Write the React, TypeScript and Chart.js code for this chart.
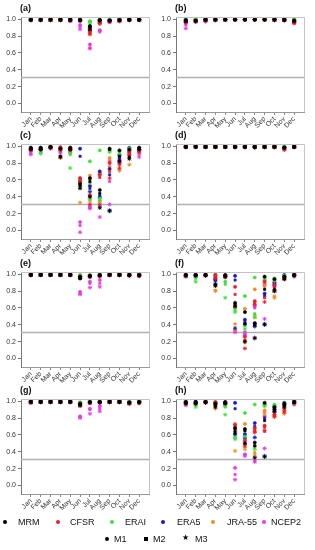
import React, { useEffect, useRef } from "react";
import { Chart, registerables } from "chart.js";

Chart.register(...registerables);

const MONTHS = ["Jan", "Feb", "Mar", "Apr", "May", "Jun", "Jul", "Aug", "Sep", "Oct", "Nov", "Dec"];
const PRODUCTS = ["MRM", "CFSR", "ERAI", "ERA5", "JRA-55", "NCEP2"];
const KEYS = ["MRM", "CFSR", "ERAI", "ERA5", "JRA55", "NCEP2"];
const COLORS = ["#000000", "#e8202a", "#3ee03e", "#1a1ab4", "#f08c28", "#e23ce2"];
const METHODS = ["M1", "M2", "M3"];
const POINT_STYLES = ["circle", "rect", "star"];
const Y_TICKS = [0, 0.2, 0.4, 0.6, 0.8, 1.0];
const THRESHOLD = 0.31;
const PANEL_LABELS = ["(a)", "(b)", "(c)", "(d)", "(e)", "(f)", "(g)", "(h)"];

const PANEL_A = {
  MRM: [
    [0.995, 0.995, 0.995, 0.995, 0.995, 0.99, 0.92, 0.99, 0.985, 0.99, 0.995, 0.995],
    [0.99, 0.99, 0.99, 0.99, 0.99, 0.985, 0.9, 0.985, 0.98, 0.985, 0.99, 0.99],
    [0.995, 0.995, 0.995, 0.995, 0.99, 0.99, 0.88, 0.98, 0.98, 0.99, 0.995, 0.995],
  ],
  CFSR: [
    [0.99, 0.99, 0.99, 0.99, 0.99, 0.985, 0.86, 0.97, 0.98, 0.985, 0.99, 0.99],
    [0.99, 0.99, 0.99, 0.99, 0.985, 0.98, 0.84, 0.96, 0.98, 0.98, 0.99, 0.99],
    [0.99, 0.99, 0.99, 0.99, 0.985, 0.98, 0.82, 0.95, 0.975, 0.98, 0.99, 0.99],
  ],
  ERAI: [
    [0.99, 0.99, 0.99, 0.99, 0.99, 0.99, 0.975, 0.99, 0.99, 0.99, 0.99, 0.99],
    [0.99, 0.99, 0.99, 0.99, 0.99, 0.99, 0.965, 0.985, 0.99, 0.99, 0.99, 0.99],
    [0.99, 0.99, 0.99, 0.99, 0.99, 0.985, 0.96, 0.985, 0.985, 0.99, 0.99, 0.99],
  ],
  ERA5: [
    [0.99, 0.99, 0.99, 0.99, 0.99, 0.99, 0.91, 0.99, 0.99, 0.99, 0.99, 0.99],
    [0.99, 0.99, 0.99, 0.99, 0.99, 0.99, 0.89, 0.985, 0.985, 0.99, 0.99, 0.99],
    [0.99, 0.99, 0.99, 0.99, 0.99, 0.985, 0.87, 0.98, 0.985, 0.99, 0.99, 0.99],
  ],
  JRA55: [
    [0.99, 0.99, 0.99, 0.99, 0.99, 0.985, 0.85, 0.95, 0.98, 0.985, 0.99, 0.99],
    [0.99, 0.99, 0.99, 0.99, 0.985, 0.98, 0.84, 0.94, 0.98, 0.98, 0.99, 0.99],
    [0.99, 0.99, 0.99, 0.99, 0.985, 0.98, 0.83, 0.95, 0.975, 0.98, 0.99, 0.99],
  ],
  NCEP2: [
    [0.99, 0.99, 0.99, 0.99, 0.98, 0.93, 0.7, 0.87, 0.97, 0.98, 0.99, 0.99],
    [0.99, 0.99, 0.985, 0.985, 0.975, 0.91, 0.66, 0.86, 0.96, 0.97, 0.99, 0.99],
    [0.985, 0.985, 0.985, 0.985, 0.98, 0.88, 0.65, 0.85, 0.965, 0.975, 0.985, 0.99],
  ],
};

const PANEL_B = {
  MRM: [
    [0.99, 0.985, 0.995, 0.995, 0.995, 0.995, 0.995, 0.995, 0.995, 0.995, 0.995, 0.985],
    [0.98, 0.98, 0.99, 0.995, 0.995, 0.995, 0.995, 0.995, 0.995, 0.995, 0.99, 0.98],
    [0.975, 0.975, 0.99, 0.995, 0.995, 0.995, 0.995, 0.995, 0.995, 0.995, 0.99, 0.975],
  ],
  CFSR: [
    [0.97, 0.98, 0.99, 0.995, 0.995, 0.995, 0.995, 0.995, 0.995, 0.995, 0.99, 0.96],
    [0.965, 0.98, 0.99, 0.99, 0.995, 0.995, 0.995, 0.995, 0.995, 0.99, 0.99, 0.955],
    [0.96, 0.975, 0.985, 0.99, 0.99, 0.995, 0.995, 0.995, 0.995, 0.99, 0.985, 0.95],
  ],
  ERAI: [
    [0.99, 1.0, 0.995, 0.995, 0.995, 0.995, 0.995, 0.995, 0.995, 0.995, 0.995, 1.0],
    [0.985, 0.995, 0.99, 0.995, 0.995, 0.995, 0.995, 0.995, 0.995, 0.995, 0.995, 0.995],
    [0.985, 0.99, 0.99, 0.99, 0.995, 0.995, 0.995, 0.995, 0.995, 0.99, 0.99, 0.99],
  ],
  ERA5: [
    [0.99, 0.99, 0.995, 0.995, 0.995, 0.995, 0.995, 0.995, 0.995, 0.995, 0.995, 0.99],
    [0.985, 0.985, 0.99, 0.995, 0.995, 0.995, 0.995, 0.995, 0.995, 0.995, 0.99, 0.985],
    [0.98, 0.985, 0.99, 0.99, 0.995, 0.995, 0.995, 0.995, 0.995, 0.99, 0.99, 0.98],
  ],
  JRA55: [
    [0.98, 0.98, 0.99, 0.995, 0.995, 0.995, 0.995, 0.995, 0.995, 0.995, 0.99, 0.98],
    [0.98, 0.98, 0.99, 0.99, 0.995, 0.995, 0.995, 0.995, 0.995, 0.99, 0.99, 0.975],
    [0.975, 0.975, 0.985, 0.99, 0.99, 0.995, 0.995, 0.995, 0.99, 0.99, 0.985, 0.97],
  ],
  NCEP2: [
    [0.95, 0.975, 0.98, 0.99, 0.995, 0.995, 0.995, 0.995, 0.995, 0.99, 0.99, 0.97],
    [0.93, 0.97, 0.975, 0.99, 0.99, 0.995, 0.995, 0.995, 0.99, 0.99, 0.985, 0.965],
    [0.89, 0.965, 0.97, 0.985, 0.99, 0.99, 0.99, 0.99, 0.99, 0.985, 0.985, 0.96],
  ],
};

const PANEL_C = {
  MRM: [
    [0.98, 0.98, 0.99, 0.97, 0.98, 0.55, 0.62, 0.48, 0.97, 0.95, 0.96, 0.98],
    [0.97, 0.97, 0.99, 0.88, 0.97, 0.53, 0.58, 0.44, 0.96, 0.88, 0.87, 0.97],
    [0.96, 0.96, 0.985, 0.87, 0.96, 0.5, 0.4, 0.27, 0.23, 0.82, 0.85, 0.96],
  ],
  CFSR: [
    [0.97, 0.97, 0.99, 0.98, 0.98, 0.62, 0.42, 0.66, 0.8, 0.8, 0.93, 0.95],
    [0.96, 0.96, 0.985, 0.96, 0.96, 0.59, 0.4, 0.63, 0.7, 0.78, 0.91, 0.94],
    [0.95, 0.96, 0.98, 0.95, 0.95, 0.57, 0.31, 0.3, 0.62, 0.74, 0.9, 0.93],
  ],
  ERAI: [
    [0.97, 0.96, 0.99, 0.97, 0.92, 0.56, 0.82, 0.95, 0.95, 0.94, 0.97, 0.96],
    [0.97, 0.93, 0.99, 0.96, 0.9, 0.54, 0.56, 0.38, 0.94, 0.93, 0.96, 0.96],
    [0.96, 0.91, 0.985, 0.96, 0.74, 0.52, 0.37, 0.36, 0.93, 0.9, 0.95, 0.95],
  ],
  ERA5: [
    [0.98, 0.98, 0.99, 0.98, 0.98, 0.97, 0.53, 0.7, 0.73, 0.9, 0.98, 0.98],
    [0.97, 0.97, 0.99, 0.97, 0.97, 0.88, 0.5, 0.41, 0.66, 0.86, 0.97, 0.97],
    [0.97, 0.97, 0.985, 0.97, 0.96, 0.58, 0.46, 0.39, 0.24, 0.83, 0.95, 0.96],
  ],
  JRA55: [
    [0.97, 0.97, 0.985, 0.99, 0.97, 0.62, 0.65, 0.68, 0.86, 0.86, 0.93, 0.95],
    [0.96, 0.96, 0.985, 0.87, 0.96, 0.6, 0.6, 0.35, 0.84, 0.73, 0.9, 0.94],
    [0.96, 0.96, 0.98, 0.86, 0.95, 0.33, 0.35, 0.34, 0.76, 0.71, 0.78, 0.93],
  ],
  NCEP2: [
    [0.94, 0.95, 0.98, 0.95, 0.95, 0.1, 0.28, 0.67, 0.82, 0.89, 0.94, 0.93],
    [0.92, 0.94, 0.97, 0.93, 0.93, 0.06, 0.27, 0.32, 0.58, 0.85, 0.92, 0.9],
    [0.9, 0.93, 0.97, 0.92, 0.92, -0.02, 0.26, 0.16, 0.31, 0.8, 0.89, 0.87],
  ],
};

const PANEL_D = {
  MRM: [
    [0.995, 0.995, 0.995, 0.995, 0.995, 0.995, 0.995, 0.995, 0.995, 0.995, 0.985, 0.995],
    [0.99, 0.99, 0.99, 0.99, 0.99, 0.99, 0.99, 0.99, 0.99, 0.99, 0.98, 0.99],
    [0.99, 0.995, 0.99, 0.99, 0.99, 0.99, 0.99, 0.985, 0.99, 0.99, 0.98, 0.99],
  ],
  CFSR: [
    [0.99, 0.99, 0.99, 0.99, 0.99, 0.99, 0.99, 0.99, 0.99, 0.99, 0.97, 0.99],
    [0.99, 0.99, 0.99, 0.99, 0.99, 0.99, 0.99, 0.99, 0.99, 0.99, 0.96, 0.99],
    [0.99, 0.99, 0.99, 0.99, 0.99, 0.99, 0.99, 0.985, 0.99, 0.985, 0.955, 0.99],
  ],
  ERAI: [
    [0.995, 0.995, 0.995, 0.995, 0.995, 0.995, 0.995, 0.995, 0.995, 0.995, 0.99, 0.995],
    [0.99, 0.99, 0.99, 0.99, 0.99, 0.99, 0.99, 0.99, 0.99, 0.99, 0.99, 0.99],
    [0.99, 0.99, 0.99, 0.99, 0.99, 0.99, 0.99, 0.99, 0.99, 0.99, 0.985, 0.99],
  ],
  ERA5: [
    [0.995, 0.995, 0.995, 0.995, 0.995, 0.995, 0.995, 0.995, 0.995, 0.995, 0.99, 0.995],
    [0.99, 0.99, 0.99, 0.99, 0.99, 0.99, 0.99, 0.99, 0.99, 0.99, 0.985, 0.99],
    [0.99, 0.99, 0.99, 0.99, 0.99, 0.99, 0.99, 0.99, 0.99, 0.99, 0.985, 0.99],
  ],
  JRA55: [
    [0.995, 0.995, 0.995, 0.995, 0.995, 0.995, 0.995, 0.995, 0.995, 0.995, 0.985, 0.995],
    [0.99, 0.99, 0.99, 0.99, 0.99, 0.99, 0.99, 0.99, 0.99, 0.99, 0.98, 0.99],
    [0.99, 0.99, 0.99, 0.99, 0.99, 0.99, 0.99, 0.99, 0.99, 0.99, 0.98, 0.99],
  ],
  NCEP2: [
    [0.99, 0.99, 0.99, 0.99, 0.99, 0.99, 0.99, 0.99, 0.99, 0.99, 0.98, 0.99],
    [0.99, 0.99, 0.99, 0.99, 0.99, 0.99, 0.99, 0.985, 0.99, 0.985, 0.975, 0.99],
    [0.985, 0.99, 0.99, 0.99, 0.99, 0.985, 0.985, 0.985, 0.985, 0.985, 0.97, 0.985],
  ],
};

const PANEL_E = {
  MRM: [
    [0.995, 0.995, 0.995, 0.995, 0.995, 0.97, 0.98, 0.99, 0.995, 0.995, 0.99, 0.99],
    [0.99, 0.99, 0.99, 0.99, 0.99, 0.95, 0.98, 0.985, 0.99, 0.99, 0.99, 0.99],
    [0.99, 0.99, 0.99, 0.99, 0.99, 0.95, 0.97, 0.985, 0.99, 0.99, 0.985, 0.985],
  ],
  CFSR: [
    [0.99, 0.99, 0.99, 0.99, 0.99, 0.96, 0.98, 0.98, 0.99, 0.99, 0.99, 0.98],
    [0.99, 0.99, 0.99, 0.99, 0.99, 0.96, 0.975, 0.98, 0.99, 0.99, 0.99, 0.98],
    [0.99, 0.99, 0.99, 0.99, 0.99, 0.95, 0.975, 0.97, 0.99, 0.99, 0.985, 0.975],
  ],
  ERAI: [
    [0.995, 0.995, 0.995, 0.995, 0.995, 0.98, 0.99, 0.99, 0.995, 0.995, 0.995, 0.995],
    [0.99, 0.99, 0.99, 0.99, 0.99, 0.98, 0.99, 0.99, 0.99, 0.99, 0.99, 0.99],
    [0.99, 0.99, 0.99, 0.99, 0.99, 0.975, 0.98, 0.985, 0.99, 0.99, 0.99, 0.99],
  ],
  ERA5: [
    [0.995, 0.995, 0.995, 0.995, 0.995, 0.98, 0.98, 0.99, 0.995, 0.995, 0.995, 0.995],
    [0.99, 0.99, 0.99, 0.99, 0.99, 0.975, 0.98, 0.99, 0.99, 0.99, 0.99, 0.99],
    [0.99, 0.99, 0.99, 0.99, 0.99, 0.97, 0.975, 0.985, 0.99, 0.99, 0.99, 0.99],
  ],
  JRA55: [
    [0.995, 0.995, 0.995, 0.995, 0.995, 0.99, 0.97, 0.98, 0.995, 0.995, 0.995, 0.995],
    [0.99, 0.99, 0.99, 0.99, 0.99, 0.98, 0.97, 0.98, 0.99, 0.99, 0.99, 0.99],
    [0.99, 0.99, 0.99, 0.99, 0.99, 0.98, 0.96, 0.975, 0.99, 0.99, 0.99, 0.99],
  ],
  NCEP2: [
    [0.99, 0.99, 0.99, 0.99, 0.99, 0.79, 0.91, 0.93, 0.99, 0.99, 0.985, 0.99],
    [0.99, 0.99, 0.99, 0.99, 0.99, 0.77, 0.89, 0.89, 0.99, 0.99, 0.985, 0.99],
    [0.985, 0.99, 0.99, 0.99, 0.985, 0.76, 0.84, 0.85, 0.985, 0.985, 0.98, 0.985],
  ],
};

const PANEL_F = {
  MRM: [
    [0.99, 0.99, 0.99, 0.88, 0.99, 0.66, 0.55, 0.42, 0.97, 0.94, 0.97, 0.99],
    [0.985, 0.985, 0.99, 0.87, 0.98, 0.64, 0.41, 0.4, 0.82, 0.82, 0.95, 0.99],
    [0.98, 0.98, 0.985, 0.86, 0.97, 0.62, 0.2, 0.24, 0.4, 0.8, 0.94, 0.985],
  ],
  CFSR: [
    [0.99, 0.99, 0.99, 0.99, 0.98, 0.85, 0.26, 0.68, 0.91, 0.87, 0.97, 0.99],
    [0.985, 0.985, 0.99, 0.97, 0.98, 0.76, 0.22, 0.66, 0.72, 0.85, 0.96, 0.99],
    [0.98, 0.985, 0.985, 0.95, 0.975, 0.62, 0.12, 0.64, 0.67, 0.8, 0.95, 0.985],
  ],
  ERAI: [
    [0.99, 0.97, 0.99, 0.99, 0.91, 0.6, 0.74, 0.96, 0.96, 0.95, 0.98, 0.99],
    [0.99, 0.95, 0.99, 0.99, 0.88, 0.57, 0.39, 0.53, 0.94, 0.93, 0.98, 0.99],
    [0.985, 0.91, 0.985, 0.985, 0.72, 0.55, 0.35, 0.49, 0.92, 0.92, 0.975, 0.985],
  ],
  ERA5: [
    [0.99, 0.99, 0.99, 0.94, 0.98, 0.98, 0.46, 0.41, 0.77, 0.9, 0.99, 0.99],
    [0.99, 0.99, 0.99, 0.93, 0.98, 0.93, 0.43, 0.39, 0.74, 0.88, 0.98, 0.99],
    [0.985, 0.985, 0.985, 0.92, 0.975, 0.36, 0.4, 0.38, 0.41, 0.86, 0.97, 0.985],
  ],
  JRA55: [
    [0.99, 0.99, 0.99, 0.99, 0.98, 0.6, 0.59, 0.82, 0.93, 0.8, 0.96, 0.99],
    [0.985, 0.985, 0.99, 0.81, 0.975, 0.41, 0.42, 0.52, 0.89, 0.74, 0.95, 0.99],
    [0.98, 0.98, 0.985, 0.8, 0.97, 0.34, 0.19, 0.49, 0.86, 0.72, 0.94, 0.985],
  ],
  NCEP2: [
    [0.98, 0.98, 0.985, 0.98, 0.97, 0.33, 0.31, 0.62, 0.88, 0.9, 0.97, 0.98],
    [0.97, 0.975, 0.98, 0.97, 0.96, 0.32, 0.29, 0.6, 0.86, 0.89, 0.97, 0.97],
    [0.97, 0.97, 0.98, 0.96, 0.96, 0.31, 0.27, 0.25, 0.47, 0.88, 0.965, 0.97],
  ],
};

const PANEL_G = {
  MRM: [
    [0.995, 0.995, 0.995, 0.995, 0.995, 0.97, 0.99, 0.99, 0.995, 0.995, 0.985, 0.99],
    [0.99, 0.99, 0.99, 0.99, 0.99, 0.96, 0.985, 0.99, 0.99, 0.99, 0.98, 0.99],
    [0.99, 0.99, 0.99, 0.99, 0.99, 0.95, 0.985, 0.985, 0.99, 0.99, 0.98, 0.985],
  ],
  CFSR: [
    [0.99, 0.99, 0.99, 0.99, 0.99, 0.96, 0.98, 0.985, 0.99, 0.99, 0.975, 0.98],
    [0.99, 0.99, 0.99, 0.99, 0.99, 0.95, 0.98, 0.985, 0.99, 0.99, 0.97, 0.98],
    [0.99, 0.99, 0.99, 0.99, 0.99, 0.94, 0.975, 0.98, 0.99, 0.99, 0.965, 0.975],
  ],
  ERAI: [
    [0.995, 0.995, 0.995, 0.995, 0.995, 0.98, 0.99, 0.99, 0.995, 0.995, 0.99, 0.995],
    [0.99, 0.99, 0.99, 0.99, 0.99, 0.98, 0.99, 0.99, 0.99, 0.99, 0.99, 0.99],
    [0.99, 0.99, 0.99, 0.99, 0.99, 0.975, 0.985, 0.985, 0.99, 0.99, 0.985, 0.99],
  ],
  ERA5: [
    [0.995, 0.995, 0.995, 0.995, 0.995, 0.98, 0.99, 0.99, 0.995, 0.995, 0.99, 0.995],
    [0.99, 0.99, 0.99, 0.99, 0.99, 0.975, 0.985, 0.99, 0.99, 0.99, 0.99, 0.99],
    [0.99, 0.99, 0.99, 0.99, 0.99, 0.97, 0.985, 0.985, 0.99, 0.99, 0.985, 0.99],
  ],
  JRA55: [
    [0.995, 0.995, 0.995, 0.995, 0.995, 0.985, 0.985, 0.99, 0.995, 0.995, 0.985, 0.99],
    [0.99, 0.99, 0.99, 0.99, 0.99, 0.98, 0.98, 0.985, 0.99, 0.99, 0.98, 0.99],
    [0.99, 0.99, 0.99, 0.99, 0.99, 0.975, 0.98, 0.985, 0.99, 0.99, 0.98, 0.985],
  ],
  NCEP2: [
    [0.985, 0.99, 0.99, 0.99, 0.99, 0.82, 0.91, 0.94, 0.99, 0.99, 0.98, 0.99],
    [0.98, 0.99, 0.99, 0.99, 0.99, 0.81, 0.9, 0.91, 0.99, 0.99, 0.975, 0.985],
    [0.975, 0.985, 0.985, 0.985, 0.985, 0.8, 0.85, 0.88, 0.985, 0.985, 0.975, 0.985],
  ],
};

const PANEL_H = {
  MRM: [
    [0.99, 0.99, 0.99, 0.97, 0.99, 0.68, 0.67, 0.51, 0.98, 0.93, 0.97, 0.99],
    [0.98, 0.98, 0.99, 0.95, 0.98, 0.64, 0.65, 0.47, 0.77, 0.91, 0.95, 0.99],
    [0.97, 0.97, 0.985, 0.93, 0.97, 0.62, 0.5, 0.33, 0.34, 0.88, 0.93, 0.985],
  ],
  CFSR: [
    [0.98, 0.98, 0.99, 0.99, 0.98, 0.72, 0.53, 0.68, 0.71, 0.84, 0.92, 0.99],
    [0.98, 0.98, 0.99, 0.98, 0.98, 0.7, 0.5, 0.65, 0.69, 0.83, 0.9, 0.99],
    [0.975, 0.975, 0.985, 0.97, 0.975, 0.66, 0.47, 0.63, 0.65, 0.82, 0.87, 0.985],
  ],
  ERAI: [
    [0.99, 0.96, 0.99, 0.98, 0.94, 0.57, 0.86, 0.96, 0.96, 0.96, 0.97, 0.99],
    [0.99, 0.95, 0.99, 0.98, 0.93, 0.56, 0.65, 0.45, 0.95, 0.95, 0.97, 0.99],
    [0.985, 0.93, 0.985, 0.975, 0.84, 0.55, 0.58, 0.43, 0.94, 0.94, 0.965, 0.985],
  ],
  ERA5: [
    [0.99, 0.99, 0.99, 0.98, 0.98, 0.98, 0.61, 0.74, 0.96, 0.92, 0.98, 0.99],
    [0.99, 0.99, 0.99, 0.98, 0.98, 0.91, 0.58, 0.7, 0.8, 0.9, 0.97, 0.99],
    [0.985, 0.985, 0.985, 0.975, 0.975, 0.6, 0.56, 0.57, 0.35, 0.88, 0.96, 0.985],
  ],
  JRA55: [
    [0.98, 0.98, 0.99, 0.95, 0.97, 0.73, 0.73, 0.64, 0.89, 0.87, 0.89, 0.99],
    [0.98, 0.98, 0.99, 0.93, 0.97, 0.69, 0.46, 0.39, 0.87, 0.84, 0.87, 0.985],
    [0.975, 0.975, 0.985, 0.91, 0.965, 0.41, 0.43, 0.36, 0.85, 0.81, 0.85, 0.98],
  ],
  NCEP2: [
    [0.97, 0.97, 0.985, 0.98, 0.97, 0.21, 0.37, 0.47, 0.82, 0.94, 0.96, 0.97],
    [0.96, 0.96, 0.98, 0.97, 0.965, 0.13, 0.36, 0.29, 0.64, 0.92, 0.95, 0.96],
    [0.95, 0.96, 0.98, 0.96, 0.96, 0.07, 0.35, 0.28, 0.44, 0.9, 0.95, 0.96],
  ],
};

const PANELS = [PANEL_A, PANEL_B, PANEL_C, PANEL_D, PANEL_E, PANEL_F, PANEL_G, PANEL_H];

const FONT = '"Liberation Sans", Arial, Helvetica, sans-serif';
const CANVAS_W = 157;
const CANVAS_H = 128;
const COL_LEFT = [0, 155];
const ROW_TOP = [0, 127, 255, 382];

const framePlugin = {
  id: "frame",
  afterDraw(chart: any) {
    const { ctx, chartArea } = chart;
    ctx.save();
    ctx.strokeStyle = "#c4c4c4";
    ctx.lineWidth = 1;
    ctx.beginPath();
    ctx.moveTo(chartArea.left, Math.round(chartArea.top) + 0.5);
    ctx.lineTo(Math.round(chartArea.right) + 0.5, Math.round(chartArea.top) + 0.5);
    ctx.lineTo(Math.round(chartArea.right) + 0.5, chartArea.bottom);
    ctx.stroke();
    ctx.restore();
  },
};

function Panel({ panel, label, left, top }: { panel: any; label: string; left: number; top: number }) {
  const ref = useRef<HTMLCanvasElement | null>(null);

  useEffect(() => {
    if (!ref.current) return;
    const datasets: any[] = [];
    KEYS.forEach((key, pi) => {
      const series = panel[key];
      METHODS.forEach((m, mi) => {
        datasets.push({
          label: PRODUCTS[pi] + " " + m,
          data: series[mi].map((v: number, i: number) => ({ x: i + 1, y: v })),
          pointStyle: POINT_STYLES[mi],
          pointRadius: mi === 2 ? 2.1 : 1.6,
          pointBorderWidth: mi === 2 ? 0.9 : 0.6,
          backgroundColor: COLORS[pi],
          borderColor: COLORS[pi],
          showLine: false,
        });
      });
    });
    datasets.push({
      type: "line",
      label: "threshold",
      data: [
        { x: 0, y: THRESHOLD },
        { x: 13, y: THRESHOLD },
      ],
      borderColor: "#b0b0b0",
      borderWidth: 1.5,
      pointRadius: 0,
      showLine: true,
    });

    const chart = new Chart(ref.current, {
      type: "scatter",
      data: { datasets },
      options: {
        responsive: false,
        animation: false,
        devicePixelRatio: 1,
        events: [],
        layout: { padding: { left: 0, right: 8, top: 17, bottom: 0 } },
        plugins: {
          legend: { display: false },
          tooltip: { enabled: false },
          title: { display: false },
        },
        scales: {
          x: {
            type: "linear",
            min: 0,
            max: 13,
            afterBuildTicks: (scale: any) => {
              scale.ticks = MONTHS.map((_, i) => ({ value: i + 1 }));
            },
            afterFit: (scale: any) => {
              scale.height = 16;
            },
            ticks: {
              autoSkip: false,
              maxRotation: 45,
              minRotation: 45,
              padding: 0,
              color: "#333",
              font: { family: FONT, size: 7 },
              callback: (v: any) => MONTHS[Number(v) - 1] ?? "",
            },
            grid: { display: true, drawOnChartArea: false, drawTicks: true, tickLength: 3, color: "#888" },
            border: { display: true, color: "#999", width: 1 },
          },
          y: {
            type: "linear",
            min: -0.1,
            max: 1.025,
            afterBuildTicks: (scale: any) => {
              scale.ticks = Y_TICKS.map((v) => ({ value: v }));
            },
            afterFit: (scale: any) => {
              scale.width = 21;
            },
            ticks: {
              padding: 2,
              color: "#333",
              font: { family: FONT, size: 7 },
              callback: (v: any) => Number(v).toFixed(1),
            },
            grid: { display: true, drawOnChartArea: false, drawTicks: true, tickLength: 3, color: "#777" },
            border: { display: true, color: "#777", width: 1 },
          },
        },
      } as any,
      plugins: [framePlugin],
    });
    return () => chart.destroy();
  }, [panel]);

  return (
    <>
      <canvas
        ref={ref}
        width={CANVAS_W}
        height={CANVAS_H}
        style={{ position: "absolute", left, top, width: CANVAS_W, height: CANVAS_H }}
      />
      <div
        style={{
          position: "absolute",
          left: left + 20,
          top: top + 3,
          font: `bold 9px ${FONT}`,
          color: "#111",
          lineHeight: "10px",
        }}
      >
        {label}
      </div>
    </>
  );
}

const LEGEND1_X = [[5, 18], [58, 70], [112, 125], [163, 177], [213, 227], [264, 271]];
const LEGEND2_X = [[107, 114], [146, 153], [185, 195]];

export default function App() {
  return (
    <div style={{ position: "absolute", left: 0, top: 0, width: 315, height: 550, background: "#fff", overflow: "hidden" }}>
      {PANELS.map((p, i) => (
        <Panel key={i} panel={p} label={PANEL_LABELS[i]} left={COL_LEFT[i % 2]} top={ROW_TOP[Math.floor(i / 2)]} />
      ))}
      {PRODUCTS.map((p, i) => (
        <React.Fragment key={p}>
          <div
            style={{
              position: "absolute",
              left: LEGEND1_X[i][0] - 2,
              top: 520,
              width: 4,
              height: 4,
              borderRadius: 2,
              background: COLORS[i],
            }}
          />
          <div
            style={{
              position: "absolute",
              left: LEGEND1_X[i][1],
              top: 516,
              font: `9px ${FONT}`,
              lineHeight: "12px",
              color: "#111",
              whiteSpace: "nowrap",
            }}
          >
            {p}
          </div>
        </React.Fragment>
      ))}
      {METHODS.map((m, i) => (
        <React.Fragment key={m}>
          {i < 2 ? (
            <div
              style={{
                position: "absolute",
                left: LEGEND2_X[i][0] - 2,
                top: 537,
                width: 4,
                height: 4,
                borderRadius: i === 0 ? 2 : 0,
                background: "#000",
              }}
            />
          ) : (
            <div
              style={{
                position: "absolute",
                left: LEGEND2_X[i][0] - 3,
                top: 533,
                font: `8px ${FONT}`,
                lineHeight: "10px",
                color: "#000",
              }}
            >
              ★
            </div>
          )}
          <div
            style={{
              position: "absolute",
              left: LEGEND2_X[i][1],
              top: 533,
              font: `9px ${FONT}`,
              lineHeight: "12px",
              color: "#111",
            }}
          >
            {m}
          </div>
        </React.Fragment>
      ))}
    </div>
  );
}
